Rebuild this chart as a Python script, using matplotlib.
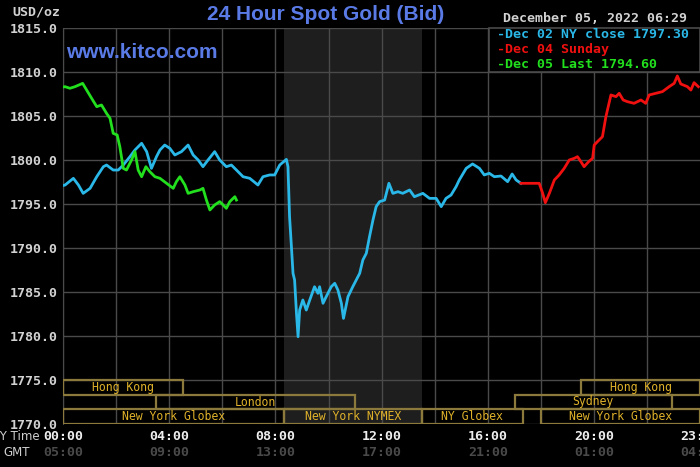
import matplotlib
matplotlib.use("Agg")
import matplotlib.pyplot as plt
from matplotlib.patches import Rectangle
from matplotlib.transforms import blended_transform_factory

# ---------------- data ----------------
# Dec 02 NY close (cyan), hours NY time
cyan_h = [0.00, 0.08, 0.39, 0.58, 0.76, 1.02, 1.27, 1.52, 1.64, 1.89, 2.08, 2.27, 2.52, 2.71, 2.96,
          3.15, 3.33, 3.52, 3.65, 3.83, 4.02, 4.21, 4.46, 4.71, 4.90, 5.09, 5.27, 5.46, 5.71, 5.90,
          6.15, 6.34, 6.53, 6.78, 7.03, 7.34, 7.53, 7.78, 7.97, 8.16, 8.41, 8.47, 8.53, 8.60, 8.66,
          8.72, 8.79, 8.85, 8.91, 9.03, 9.16, 9.29, 9.47, 9.60, 9.66, 9.79, 9.91, 10.10, 10.23,
          10.35, 10.48, 10.56, 10.73, 10.91, 11.04, 11.17, 11.29, 11.42, 11.54, 11.67, 11.79,
          11.92, 12.11, 12.27, 12.42, 12.61, 12.79, 13.05, 13.23, 13.55, 13.80, 14.05, 14.24,
          14.42, 14.61, 14.80, 14.92, 15.18, 15.42, 15.68, 15.86, 16.05, 16.24, 16.49, 16.74,
          16.91, 17.06, 17.24]
cyan_v = [1797.1, 1797.16, 1797.92, 1797.16, 1796.21, 1796.78, 1798.10, 1799.24, 1799.43, 1798.86,
          1798.86, 1799.43, 1800.38, 1801.14, 1801.90, 1800.95, 1799.05, 1800.38, 1801.14, 1801.70,
          1801.33, 1800.57, 1800.95, 1801.70, 1800.57, 1800.00, 1799.24, 1800.00, 1800.95, 1800.00,
          1799.24, 1799.43, 1798.86, 1798.10, 1797.92, 1797.16, 1798.10, 1798.30, 1798.30, 1799.43,
          1800.07, 1799.24, 1793.56, 1790.15, 1787.12, 1786.36, 1782.58, 1779.92, 1782.95, 1784.09,
          1782.95, 1784.09, 1785.60, 1784.85, 1785.60, 1783.72, 1784.47, 1785.60, 1785.99, 1785.23,
          1783.72, 1782.00, 1784.47, 1785.60, 1786.36, 1787.12, 1788.64, 1789.40, 1791.28, 1793.18,
          1794.70, 1795.27, 1795.45, 1797.35, 1796.21, 1796.40, 1796.21, 1796.59, 1795.83, 1796.21,
          1795.64, 1795.64, 1794.70, 1795.64, 1796.02, 1796.97, 1797.73, 1799.05, 1799.55, 1799.05,
          1798.30, 1798.49, 1798.10, 1798.18, 1797.54, 1798.41, 1797.73, 1797.35]

# Dec 04 Sunday (red)
red_h = [17.24, 17.93, 18.06, 18.16, 18.31, 18.50, 18.68, 18.87, 19.06, 19.25, 19.37, 19.50, 19.62,
         19.79, 19.94, 20.00, 20.12, 20.31, 20.44, 20.63, 20.82, 20.94, 21.09, 21.25, 21.50, 21.76,
         21.94, 22.07, 22.32, 22.57, 22.82, 23.01, 23.13, 23.26, 23.51, 23.64, 23.76, 23.92]
red_v = [1797.35, 1797.35, 1796.21, 1795.15, 1796.21, 1797.73, 1798.30, 1799.05, 1800.00, 1800.19,
         1800.38, 1799.81, 1799.24, 1799.81, 1800.19, 1801.70, 1802.08, 1802.65, 1804.92, 1807.39,
         1807.20, 1807.58, 1806.82, 1806.63, 1806.44, 1806.82, 1806.44, 1807.39, 1807.58, 1807.77,
         1808.33, 1808.71, 1809.55, 1808.64, 1808.33, 1807.95, 1808.79, 1808.33]

# Dec 05 Last (green)
green_h = [0.00, 0.08, 0.26, 0.45, 0.74, 0.89, 1.08, 1.27, 1.45, 1.64, 1.77, 1.89, 2.04, 2.14, 2.27,
           2.39, 2.58, 2.71, 2.83, 2.96, 3.12, 3.27, 3.46, 3.65, 3.90, 4.15, 4.27, 4.40, 4.59, 4.71,
           4.90, 5.15, 5.27, 5.40, 5.53, 5.71, 5.90, 6.03, 6.15, 6.28, 6.47, 6.53]
green_v = [1808.3, 1808.33, 1808.15, 1808.33, 1808.71, 1807.95, 1807.00, 1806.06, 1806.25, 1805.30,
           1804.74, 1803.03, 1802.84, 1801.51, 1799.05, 1798.86, 1800.00, 1800.95, 1798.86, 1798.10,
           1799.24, 1798.67, 1798.10, 1797.92, 1797.35, 1796.78, 1797.54, 1798.10, 1797.16, 1796.21,
           1796.40, 1796.59, 1796.78, 1795.45, 1794.32, 1794.89, 1795.27, 1794.89, 1794.51, 1795.27,
           1795.83, 1795.45]

x_ticks = [0, 4, 8, 12, 16, 20, 23.983]
ny_labels = ["00:00", "04:00", "08:00", "12:00", "16:00", "20:00", "23:59"]
gmt_labels = ["05:00", "09:00", "13:00", "17:00", "21:00", "01:00", "04:59"]
y_ticks = [1770, 1775, 1780, 1785, 1790, 1795, 1800, 1805, 1810, 1815]

# trading sessions: name, start hour, end hour, row (0 = top)
sess_names = ["Hong Kong", "London", "New York Globex", "New York NYMEX", "NY Globex",
              "New York Globex", "Sydney", "Hong Kong"]
sess_start = [0.0, 3.5, 0.0, 8.33, 13.5, 18.0, 17.0, 19.5]
sess_end = [4.5, 11.0, 8.33, 13.5, 17.33, 24.0, 22.92, 24.0]
sess_row = [0, 1, 2, 2, 2, 2, 1, 0]

nymex_span = (8.33, 13.5)

legend_texts = ["-Dec 02 NY close 1797.30", "-Dec 04 Sunday", "-Dec 05 Last 1794.60"]

# ---------------- style ----------------
BG = "#000000"
GRID = "#4a4a4a"
CYAN = "#2ab8e8"
RED = "#f01010"
GREEN = "#22e01e"
BLUE = "#5a7ae6"
GOLD = "#e0b22a"
BOX = "#8c7a3c"
LBL = "#d2d2d2"
MONO = "DejaVu Sans Mono"

fig = plt.figure(figsize=(7.0, 4.67), dpi=100, facecolor=BG)
ax = fig.add_axes([63 / 700, 1 - 424 / 467, 1 - 63 / 700, (424 - 28) / 467])
ax.set_facecolor(BG)
ax.set_xlim(0, 23.983)
ax.set_ylim(1770, 1815)

ax.axvspan(*nymex_span, color="#1e1e1e", zorder=0, lw=0)

ax.set_yticks(y_ticks)
ax.set_xticks(list(range(0, 24, 2)), minor=False)
ax.grid(True, color=GRID, lw=1.0, zorder=1)
for s in ax.spines.values():
    s.set_visible(False)
ax.spines["left"].set_visible(True)
ax.spines["left"].set_color(GRID)
ax.tick_params(axis="both", length=0)
ax.set_yticklabels([f"{v:.1f}" for v in y_ticks], fontfamily=MONO, fontweight="bold",
                   fontsize=9.5, color=LBL)
ax.tick_params(axis="y", pad=4)
ax.set_xticklabels([])

# x labels (NY time / GMT)
tr = blended_transform_factory(ax.transData, fig.transFigure)
for xt, ny, g in zip(x_ticks, ny_labels, gmt_labels):
    ax.text(xt, 1 - 437 / 467, ny, transform=tr, ha="center", va="center", fontfamily=MONO,
            fontweight="bold", fontsize=9.5, color="#eeeeee", clip_on=False)
    ax.text(xt, 1 - 452 / 467, g, transform=tr, ha="center", va="center", fontfamily=MONO,
            fontweight="bold", fontsize=9.5, color="#4a4a4a", clip_on=False)
fig.text(40 / 700, 1 - 437 / 467, "NY Time", ha="right", va="center", fontfamily="DejaVu Sans",
         fontsize=8.5, color="#d0d0d0")
fig.text(3 / 700, 1 - 452 / 467, "GMT", ha="left", va="center", fontfamily="DejaVu Sans",
         fontsize=8.5, color="#d0d0d0")

# session boxes
row_h = 5 / 3
for name, s0, s1, r in zip(sess_names, sess_start, sess_end, sess_row):
    y0 = 1775 - (r + 1) * row_h
    ax.add_patch(Rectangle((s0, y0), s1 - s0, row_h, fill=False, ec=BOX, lw=1.6, zorder=3,
                           clip_on=True))
    ax.text((s0 + min(s1, 23.983)) / 2, y0 + row_h / 2, name, ha="center", va="center",
            fontfamily=MONO, fontsize=8.3, color=GOLD, zorder=4)

# price lines
ax.plot(cyan_h, cyan_v, color=CYAN, lw=2.0, zorder=5)
ax.plot(red_h, red_v, color=RED, lw=2.0, zorder=5)
ax.plot(green_h, green_v, color=GREEN, lw=2.0, zorder=6)

# legend box
ax.add_patch(Rectangle((16.03, 1810), 23.983 - 16.03, 5, facecolor=BG, ec=GRID, lw=1.2,
                       zorder=7, clip_on=False))
for i, (t, c) in enumerate(zip(legend_texts, [CYAN, RED, GREEN])):
    fig.text(497 / 700, 1 - (35 + i * 14.5) / 467, t, ha="left", va="center", fontfamily=MONO,
             fontweight="bold", fontsize=9.5, color=c, zorder=8)

# titles / headers
fig.text(326 / 700, 1 - 15 / 467, "24 Hour Spot Gold (Bid)", ha="center", va="center",
         fontfamily="Liberation Sans", fontweight="bold", fontsize=15, color=BLUE)
fig.text(66 / 700, 1 - 52 / 467, "www.kitco.com", ha="left", va="center",
         fontfamily="Liberation Sans", fontweight="bold", fontsize=15, color=BLUE)
fig.text(595 / 700, 1 - 19 / 467, "December 05, 2022 06:29", ha="center", va="center",
         fontfamily=MONO, fontweight="bold", fontsize=9.5, color=LBL)
fig.text(12 / 700, 1 - 12 / 467, "USD/oz", ha="left", va="center", fontfamily=MONO,
         fontweight="bold", fontsize=9.5, color=LBL)

fig.savefig("out.png", dpi=100, facecolor=BG)
